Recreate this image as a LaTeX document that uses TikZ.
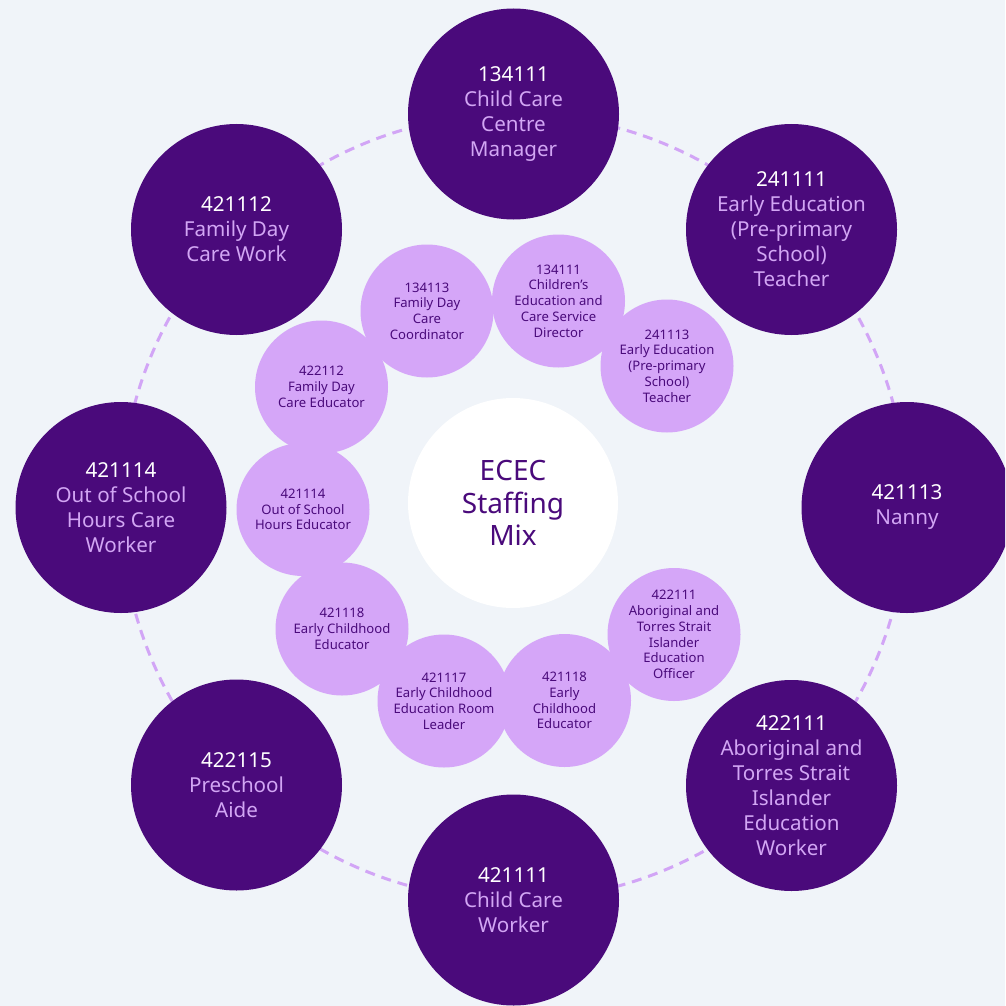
\documentclass[tikz,border=0pt]{standalone}
\usepackage{fontspec}
\setmainfont{Noto Sans}
\usepackage{tikz}
\usetikzlibrary{positioning}
\definecolor{bgpale}{HTML}{F0F4F9}
\definecolor{plumdark}{HTML}{4A0A7B}
\definecolor{lilac}{HTML}{D5A6F8}
\definecolor{lilactext}{HTML}{D2A6F4}
\definecolor{ringdash}{HTML}{D2A5F6}
\newcommand{\jobcode}[1]{\textcolor{white}{#1}}

\begin{document}
\begin{tikzpicture}[x=1pt, y=-1pt,
  outer/.style={circle, fill=plumdark, minimum size=211pt, inner sep=0pt, align=center,
                text=lilactext, font=\fontsize{20.6}{25}\selectfont},
  inner/.style={circle, fill=lilac, minimum size=133pt, inner sep=0pt, align=center,
                text=plumdark, font=\fontsize{13.1}{15.7}\selectfont},
  hub/.style={circle, fill=white, minimum size=210pt, inner sep=0pt, align=center,
              text=plumdark, font=\fontsize{28}{32.5}\selectfont},
]
  \useasboundingbox (0,0) rectangle (1005,1006);
  \fill[bgpale] (0,0) rectangle (1005,1006);
  \clip (0,0) rectangle (1005,1006);
  \draw[ringdash, line width=3pt, dash pattern=on 10pt off 7pt] (514,507) circle[radius=393pt];

  \node[outer] (mgr) at (513.5,114) {\jobcode{134111}\\Child Care\\Centre\\Manager};
  \node[outer] (teach) at (791.5,229.5) {\jobcode{241111}\\Early Education\\(Pre-primary\\School)\\Teacher};
  \node[outer] (nanny) at (907,507.5) {\jobcode{421113}\\Nanny};
  \node[outer] (atsi) at (791.5,785.5) {\jobcode{422111}\\Aboriginal and\\Torres Strait\\Islander\\Education\\Worker};
  \node[outer] (ccw) at (513.5,900) {\jobcode{421111}\\Child Care\\Worker};
  \node[outer] (aide) at (236.5,785) {\jobcode{422115}\\Preschool\\Aide};
  \node[outer] (oshc) at (121,507.5) {\jobcode{421114}\\Out of School\\Hours Care\\Worker};
  \node[outer] (fdcw) at (236.5,229.5) {\jobcode{421112}\\Family Day\\Care Work};

  \node[inner] (fdcc) at (427,311) {134113\\Family Day\\Care\\Coordinator};
  \node[inner] (dir) at (558.5,301) {134111\\Children’s\\Education and\\Care Service\\Director};
  \node[inner] (ppt) at (667,366) {241113\\Early Education\\(Pre-primary\\School)\\Teacher};
  \node[inner] (aeo) at (674,634.5) {422111\\Aboriginal and\\Torres Strait\\Islander\\Education\\Officer};
  \node[inner] (ece2) at (564.5,700.5) {421118\\Early\\Childhood\\Educator};
  \node[inner] (room) at (444,701) {421117\\Early Childhood\\Education Room\\Leader};
  \node[inner] (ece1) at (342,629) {421118\\Early Childhood\\Educator};
  \node[inner] (oshe) at (303,509.5) {421114\\Out of School\\Hours Educator};
  \node[inner] (fdce) at (321.5,387) {422112\\Family Day\\Care Educator};

  \node[hub] (mix) at (513,503) {ECEC\\Staffing\\Mix};
\end{tikzpicture}
\end{document}
